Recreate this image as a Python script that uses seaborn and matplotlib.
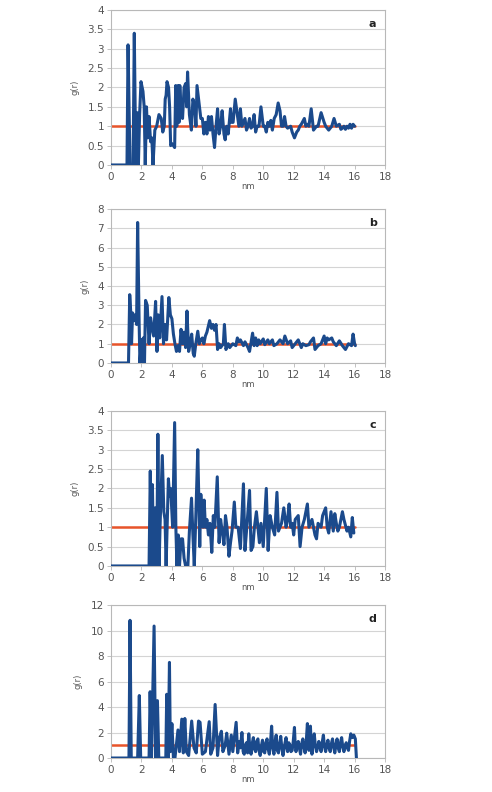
import numpy as np
import pandas as pd
import matplotlib
matplotlib.use("Agg")
import matplotlib.pyplot as plt
import seaborn as sns
from matplotlib.ticker import FuncFormatter

# panel a
r_a = [0, 1.05, 1.12, 1.25, 1.45, 1.53, 1.63, 1.72, 1.8, 1.88, 1.97, 2.1, 2.18, 2.25, 2.33,
       2.42, 2.5, 2.6, 2.68, 2.76, 2.88, 3.0, 3.15, 3.3, 3.4, 3.5, 3.56, 3.62, 3.68, 3.78,
       3.85, 3.92, 4.0, 4.1, 4.18, 4.25, 4.32, 4.4, 4.47, 4.52, 4.6, 4.7, 4.8, 4.9, 4.97,
       5.03, 5.15, 5.28, 5.38, 5.5, 5.58, 5.65, 5.78, 5.9, 6.0, 6.1, 6.2, 6.3, 6.4, 6.5,
       6.6, 6.7, 6.8, 6.9, 7.0, 7.1, 7.2, 7.3, 7.42, 7.5, 7.6, 7.7, 7.85, 7.92, 8.02, 8.16,
       8.3, 8.4, 8.5, 8.6, 8.7, 8.8, 8.9, 9.0, 9.1, 9.2, 9.3, 9.4, 9.5, 9.6, 9.72, 9.85,
       10.0, 10.1, 10.2, 10.3, 10.4, 10.5, 10.6, 10.72, 10.85, 10.98, 11.1, 11.2, 11.3,
       11.4, 11.5, 11.6, 11.8, 11.9, 12.05, 12.2, 12.3, 12.4, 12.5, 12.7, 12.8, 12.9, 13.0,
       13.15, 13.3, 13.4, 13.5, 13.6, 13.8, 14.0, 14.1, 14.2, 14.3, 14.5, 14.65, 14.8,
       15.0, 15.1, 15.2, 15.3, 15.4, 15.5, 15.6, 15.7, 15.8, 15.9, 16.0]
g_a = [0, 0, 3.1, 0, 0, 3.4, 0, 1.35, 0, 1.3, 2.15, 1.9, 1.5, 0, 1.5,
       0.7, 1.25, 0.6, 0.7, 0, 0.9, 1.0, 1.3, 1.2, 0.85, 1.0, 1.7, 1.8, 2.15, 2.0,
       1.5, 0.5, 0.55, 0.5, 0.45, 2.05, 1.0, 2.05, 1.1, 2.05, 1.4, 1.2, 2.0, 2.1, 1.5,
       2.4, 1.3, 0.9, 1.7, 1.5, 1.0, 2.05, 1.6, 1.2, 1.2, 0.8, 1.1, 0.8, 1.25, 0.9,
       1.25, 0.8, 0.45, 1.0, 1.45, 0.8, 1.0, 1.4, 0.8, 0.65, 1.0, 0.8, 1.45, 1.1, 1.1, 1.7,
       1.3, 1.0, 1.45, 1.0, 1.1, 1.2, 0.9, 1.0, 1.2, 0.95, 1.0, 1.3, 0.85, 1.0, 1.0, 1.5,
       1.0, 1.0, 0.85, 1.1, 1.0, 1.15, 0.9, 1.2, 1.3, 1.6, 1.4, 1.0, 1.0,
       1.25, 1.0, 0.95, 1.0, 0.85, 0.7, 0.85, 0.9, 1.0, 1.05, 1.2, 1.0, 1.05, 1.0,
       1.45, 0.9, 0.95, 1.0, 1.0, 1.35, 1.1, 1.0, 0.95, 0.9, 1.0, 1.2, 1.0,
       1.05, 0.92, 0.95, 1.0, 0.92, 1.0, 0.95, 1.05, 0.95, 1.05, 1.0]

# panel b
r_b = [0, 1.15, 1.23, 1.3, 1.35, 1.42, 1.5, 1.6, 1.68, 1.75, 1.85, 1.9, 2.0, 2.05, 2.12,
       2.2, 2.27, 2.38, 2.5, 2.6, 2.7, 2.8, 2.93, 3.02, 3.1, 3.2, 3.35, 3.45, 3.55, 3.65,
       3.8, 3.9, 4.0, 4.1, 4.2, 4.3, 4.4, 4.5, 4.6, 4.7, 4.8, 4.9, 4.99, 5.1, 5.2, 5.3,
       5.4, 5.47, 5.57, 5.7, 5.8, 5.9, 6.0, 6.1, 6.2, 6.3, 6.48, 6.6, 6.7, 6.8, 6.9, 7.0,
       7.1, 7.2, 7.38, 7.45, 7.55, 7.7, 7.8, 8.0, 8.2, 8.3, 8.4, 8.5, 8.7, 8.8, 9.0, 9.1,
       9.3, 9.4, 9.5, 9.6, 9.7, 9.8, 10.0, 10.1, 10.3, 10.4, 10.6, 10.7, 10.9, 11.1, 11.3,
       11.42, 11.6, 11.8, 11.9, 12.1, 12.3, 12.5, 12.6, 12.8, 13.0, 13.1, 13.3, 13.4, 13.6,
       13.8, 14.0, 14.1, 14.2, 14.3, 14.5, 14.6, 14.8, 15.0, 15.2, 15.4, 15.6, 15.8, 15.9,
       16.0, 16.05]
g_b = [0, 0, 3.55, 2.6, 1.0, 2.6, 2.2, 2.5, 2.0, 7.3, 2.0, 0, 1.2, 0, 1.3,
       0, 3.25, 3.0, 1.0, 2.35, 1.8, 1.4, 3.2, 0.6, 2.5, 1.3, 3.45, 1.0, 2.0, 1.2,
       3.4, 2.5, 2.3, 1.5, 1.0, 0.6, 0.9, 0.6, 1.75, 1.0, 1.6, 0.8, 2.7, 0.6, 1.0, 1.5,
       0.5, 0.35, 1.0, 1.65, 1.0, 1.2, 1.3, 1.0, 1.4, 1.6, 2.2, 1.8, 2.0, 1.7, 2.0, 0.7,
       1.0, 0.8, 1.0, 2.0, 0.7, 1.0, 0.8, 1.0, 0.9, 1.3, 1.1, 1.2, 0.9, 1.1, 0.8, 0.6,
       1.55, 0.9, 1.3, 0.9, 1.2, 1.0, 1.25, 0.95, 1.2, 1.0, 1.2, 0.9, 1.0, 1.2, 1.0,
       1.4, 1.0, 1.15, 0.8, 1.0, 1.2, 0.8, 1.0, 0.9, 0.95, 1.1, 1.3, 0.7, 0.9,
       1.0, 1.4, 1.0, 1.3, 1.2, 1.3, 1.1, 0.9, 1.15, 0.9, 0.7, 1.0, 0.9, 1.5,
       1.0, 0.9]

# panel c
r_c = [0, 2.5, 2.58, 2.66, 2.72, 2.8, 2.9, 3.0, 3.08, 3.16, 3.22, 3.37, 3.47, 3.55, 3.62,
       3.77, 3.85, 3.92, 4.05, 4.18, 4.26, 4.33, 4.42, 4.5, 4.6, 4.7, 4.8, 4.9, 5.05, 5.15,
       5.29, 5.38, 5.47, 5.55, 5.7, 5.78, 5.83, 5.9, 5.97, 6.05, 6.12, 6.2, 6.3, 6.4, 6.5,
       6.62, 6.72, 6.82, 6.98, 7.1, 7.2, 7.3, 7.42, 7.52, 7.62, 7.75, 7.85, 7.95, 8.1, 8.2,
       8.35, 8.5, 8.7, 8.8, 8.92, 9.1, 9.2, 9.32, 9.42, 9.55, 9.65, 9.75, 9.85, 10.0, 10.2,
       10.32, 10.45, 10.6, 10.75, 10.9, 11.0, 11.2, 11.35, 11.5, 11.6, 11.7, 11.8, 11.9,
       12.0, 12.1, 12.3, 12.42, 12.55, 12.7, 12.9, 13.0, 13.2, 13.4, 13.5, 13.6, 13.8,
       13.9, 14.1, 14.2, 14.3, 14.45, 14.6, 14.7, 14.8, 14.9, 15.0, 15.2, 15.3, 15.5, 15.6,
       15.75, 15.85, 15.95]
g_c = [0, 0, 2.45, 0, 2.1, 0, 1.5, 0, 3.4, 0, 1.0, 2.85, 1.4, 1.2, 0,
       2.25, 1.8, 2.0, 1.0, 3.7, 1.0, 0, 0.8, 0, 0.7, 0.7, 0.2, 0, 0, 0.9,
       1.75, 0.8, 0, 1.0, 3.0, 1.5, 0.5, 1.85, 1.3, 1.0, 1.7, 1.0, 1.2, 0.8, 1.1,
       0.35, 1.3, 1.0, 2.3, 0.6, 1.2, 0.9, 0.55, 1.3, 1.0, 0.25, 0.6, 0.9, 1.65, 1.0,
       1.0, 0.45, 2.12, 0.4, 1.0, 1.95, 0.4, 0.5, 1.0, 1.4, 1.0, 0.6, 1.1, 0.5, 2.0,
       0.4, 1.3, 1.0, 0.8, 1.9, 0.9, 1.1, 1.5, 1.0, 1.2, 1.6, 1.0, 1.1,
       0.8, 1.2, 1.3, 0.5, 1.0, 1.2, 1.6, 1.0, 1.2, 0.8, 0.7, 1.1, 1.0,
       1.3, 1.5, 1.0, 0.85, 1.4, 0.9, 1.35, 1.1, 0.9, 1.0, 1.4, 1.2, 0.9, 1.0,
       0.75, 1.25, 0.85]

# panel d
r_d = [0, 1.18, 1.25, 1.33, 1.75, 1.86, 1.95, 2.5, 2.57, 2.66, 2.83, 2.93, 3.05, 3.14,
       3.6, 3.66, 3.75, 3.84, 3.9, 4.0, 4.1, 4.2, 4.4, 4.5, 4.65, 4.75, 4.85, 4.95, 5.1,
       5.3, 5.45, 5.6, 5.75, 5.85, 6.0, 6.2, 6.45, 6.55, 6.7, 6.84, 7.0, 7.1, 7.25, 7.35,
       7.5, 7.6, 7.75, 7.9, 8.0, 8.22, 8.32, 8.42, 8.5, 8.6, 8.68, 8.75, 8.82, 8.9, 8.97,
       9.05, 9.12, 9.2, 9.27, 9.35, 9.42, 9.5, 9.57, 9.65, 9.72, 9.8, 9.87, 9.95, 10.02,
       10.1, 10.17, 10.25, 10.32, 10.4, 10.47, 10.55, 10.62, 10.7, 10.77, 10.85, 10.92,
       11.0, 11.07, 11.15, 11.22, 11.3, 11.4, 11.5, 11.55, 11.6, 11.68, 11.75, 11.82, 11.9,
       11.97, 12.05, 12.1, 12.15, 12.22, 12.3, 12.37, 12.45, 12.52, 12.6, 12.67, 12.75,
       12.82, 12.9, 12.95, 13.0, 13.05, 13.1, 13.15, 13.2, 13.27, 13.35, 13.42, 13.5,
       13.57, 13.65, 13.72, 13.8, 13.87, 13.95, 14.02, 14.1, 14.17, 14.25, 14.32, 14.4,
       14.47, 14.55, 14.62, 14.7, 14.77, 14.85, 14.92, 15.0, 15.07, 15.15, 15.22, 15.3,
       15.37, 15.45, 15.52, 15.6, 15.67, 15.75, 15.85, 15.95, 16.05, 16.12]
g_d = [0, 0, 10.8, 0, 0, 4.9, 0, 0, 5.2, 0, 10.35, 0, 4.5, 0,
       0, 5.0, 0, 7.5, 0.5, 2.7, 0, 0, 2.2, 0.5, 3.05, 0.4, 3.1, 0.5, 0.2,
       2.9, 0.8, 0.4, 2.9, 2.8, 0.3, 0.5, 2.85, 0.3, 0.8, 4.2, 0.2, 1.5, 2.1, 0.5,
       1.0, 1.95, 0.3, 1.8, 0.5, 2.8, 0.4, 1.3, 0.8, 2.0, 0.5, 0.3, 1.0, 1.2, 0.4,
       1.9, 0.8, 0.3, 1.1, 1.6, 0.7, 0.5, 1.3, 1.5, 0.6, 0.2, 0.9, 1.4, 0.5,
       0.4, 1.2, 1.5, 0.7, 0.3, 1.1, 2.5, 0.9, 0.3, 1.2, 1.8, 0.6,
       0.4, 1.1, 1.7, 0.8, 0.2, 1.0, 1.6, 0.9, 0.5, 1.2, 1.0, 0.5, 0.6,
       1.3, 2.4, 1.0, 0.5, 0.9, 1.3, 0.8, 0.3, 1.1, 1.5, 0.9, 0.4,
       1.2, 2.7, 1.5, 0.6, 1.4, 2.5, 1.0, 0.3, 1.1, 1.9, 1.0, 0.5,
       0.8, 1.3, 0.9, 0.5, 1.2, 1.8, 0.9, 0.5, 1.0, 1.4, 0.8, 0.5,
       1.1, 1.5, 0.9, 0.4, 1.0, 1.5, 0.8, 0.5, 1.2, 1.6, 0.9, 0.5,
       0.9, 1.2, 0.8, 0.6, 1.3, 1.9, 1.6, 1.8, 1.5, 0]

panels = [
    ("a", r_a, g_a, 4, [0, 0.5, 1, 1.5, 2, 2.5, 3, 3.5, 4]),
    ("b", r_b, g_b, 8, [0, 1, 2, 3, 4, 5, 6, 7, 8]),
    ("c", r_c, g_c, 4, [0, 0.5, 1, 1.5, 2, 2.5, 3, 3.5, 4]),
    ("d", r_d, g_d, 12, [0, 2, 4, 6, 8, 10, 12]),
]
# axes rectangles in figure fraction (left, bottom, width, height)
rects = [
    (0.2256, 0.7917, 0.557, 0.1957),
    (0.2256, 0.5417, 0.557, 0.1944),
    (0.2256, 0.2854, 0.557, 0.1957),
    (0.2256, 0.0429, 0.557, 0.1932),
]

sns.set_theme(style="white")
plt.rcParams['font.family'] = ['DejaVu Sans']

blue = "#1b4a8c"
red = "#e8542a"
grey_txt = "#555555"

fig = plt.figure(figsize=(4.92, 7.92), dpi=100)

for (label, r, g, ymax, yticks), rect in zip(panels, rects):
    ax = fig.add_axes(rect)
    df = pd.DataFrame({"r": r, "g": g})
    ax.plot([0, 16], [1, 1], color=red, linewidth=1.8, zorder=2)
    sns.lineplot(data=df, x="r", y="g", ax=ax, color=blue, linewidth=2.2,
                 estimator=None, sort=False, zorder=3)
    ax.set_xlim(0, 18)
    ax.set_ylim(0, ymax)
    ax.set_xticks(range(0, 19, 2))
    ax.set_yticks(yticks)
    ax.yaxis.set_major_formatter(FuncFormatter(lambda v, p: f"{v:g}"))
    ax.grid(axis="y", color="#d4d4d4", linewidth=0.8)
    ax.grid(axis="x", visible=False)
    ax.set_axisbelow(True)
    for s in ax.spines.values():
        s.set_color("#b8b8b8")
        s.set_linewidth(0.8)
    ax.tick_params(axis="both", which="major", direction="out", length=3, width=0.6,
                   color="#b8b8b8", labelsize=7.5, labelcolor=grey_txt, pad=2,
                   bottom=True, left=True)
    ax.set_xlabel("nm", fontsize=6, color=grey_txt, labelpad=0)
    ax.set_ylabel("g(r)", fontsize=6, color=grey_txt, labelpad=6)
    ax.text(0.955, 0.94, label, transform=ax.transAxes, ha="center", va="top",
            fontsize=8, fontweight="bold", color="#222222")

fig.savefig("out.png", dpi=100)
